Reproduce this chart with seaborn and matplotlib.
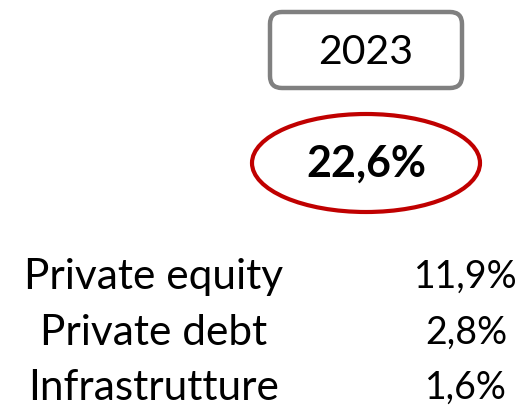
"""
Riquadro 2023: quota investimenti alternativi
"""

import matplotlib
matplotlib.use("Agg")
import matplotlib.pyplot as plt
import seaborn as sns
from matplotlib.patches import FancyBboxPatch, Ellipse

# dati
anno = "2023"
totale = "22,6%"
categorie = ["Private equity", "Private debt", "Infrastrutture"]
valori = ["11,9%", "2,8%", "1,6%"]

sns.set_theme(style="white")
plt.rcParams['font.family'] = ['Lato', 'DejaVu Sans']

fig = plt.figure(figsize=(5.24, 4.12), dpi=100)
ax = fig.add_axes([0, 0, 1, 1])
ax.set_xlim(0, 524)
ax.set_ylim(412, 0)
ax.axis('off')

# riquadro anno
box = FancyBboxPatch((270, 12), 192, 76, boxstyle="round,pad=0,rounding_size=12",
                     facecolor='white', edgecolor='#808080', linewidth=3.2)
ax.add_patch(box)
ax.text(366, 52, anno, ha='center', va='center', fontsize=29.5, color='black')

# ellisse totale
ell = Ellipse((366, 163), 228, 98, facecolor='none', edgecolor='#C00000', linewidth=3)
ax.add_patch(ell)
ax.text(366, 164, totale, ha='center', va='center', fontsize=31,
        fontweight='bold', color='black')

# righe dettaglio
y_righe = [277, 333, 388]
for cat, val, y in zip(categorie, valori, y_righe):
    ax.text(154, y, cat, ha='center', va='center', fontsize=30.5, color='black')
    ax.text(466, y, val, ha='center', va='center', fontsize=27, color='black')

fig.savefig("out.png", dpi=100)
plt.close(fig)
